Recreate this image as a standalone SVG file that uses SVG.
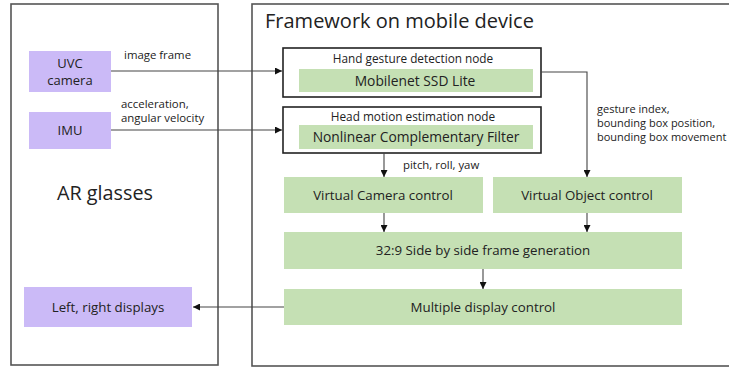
<svg xmlns="http://www.w3.org/2000/svg" width="729" height="367" viewBox="0 0 729 367">
<style>
text{font-family:"Open Sans","Noto Sans","DejaVu Sans",sans-serif;fill:#222}
.outer{fill:#fff;stroke:#555;stroke-width:1.6}
.node{fill:#fff;stroke:#222;stroke-width:1.6}
.g{fill:#c5e0b4}
.p{fill:#cbbaf7}
.c{fill:none;stroke:#444;stroke-width:1.1}
.m{text-anchor:middle}
.l{font-size:11.4px}
.s{font-size:11px}
.b{font-size:13.3px}
</style>
<defs>
<marker id="ah" viewBox="0 0 10 10" refX="10" refY="5" markerWidth="7" markerHeight="7" markerUnits="userSpaceOnUse" orient="auto">
<path d="M0,0 L10,5 L0,10 z" fill="#111"/>
</marker>
</defs>
<rect width="729" height="367" fill="#fff"/>
<g id="ar-glasses">
<rect class="outer" x="11" y="4" width="207" height="361"/>
<text x="105" y="200" font-size="19.8" class="m">AR glasses</text>
</g>
<g id="framework">
<rect class="outer" x="252" y="4" width="480" height="362"/>
<text x="265" y="28" font-size="20">Framework on mobile device</text>
</g>
<g id="uvc-camera">
<rect class="p" x="29" y="51" width="82" height="41"/>
<text x="70" y="68" font-size="13" class="m">UVC</text>
<text x="70" y="85" font-size="13" class="m">camera</text>
</g>
<g id="imu">
<rect class="p" x="29" y="112" width="82" height="37"/>
<text x="70" y="135" font-size="13" class="m">IMU</text>
</g>
<g id="left-right-displays">
<rect class="p" x="24" y="287" width="168" height="40"/>
<text x="108" y="312" class="m b">Left, right displays</text>
</g>
<g id="hand-gesture-node">
<rect class="node" x="283" y="48" width="258" height="49"/>
<text x="413" y="63" font-size="11.8" class="m">Hand gesture detection node</text>
<rect class="g" x="299" y="69" width="234" height="23"/>
<text x="415" y="86" font-size="13.8" class="m">Mobilenet SSD Lite</text>
</g>
<g id="head-motion-node">
<rect class="node" x="283" y="107" width="258" height="46"/>
<text x="413" y="121" font-size="11.8" class="m">Head motion estimation node</text>
<rect class="g" x="299" y="125" width="234" height="24"/>
<text x="416" y="142" font-size="13.8" class="m">Nonlinear Complementary Filter</text>
</g>
<g id="virtual-camera-control">
<rect class="g" x="284" y="177" width="199" height="36"/>
<text x="383" y="200" class="m b">Virtual Camera control</text>
</g>
<g id="virtual-object-control">
<rect class="g" x="493" y="177" width="189" height="36"/>
<text x="587" y="200" class="m b">Virtual Object control</text>
</g>
<g id="side-by-side">
<rect class="g" x="284" y="232" width="398" height="37"/>
<text x="483" y="255" class="m b">32:9 Side by side frame generation</text>
</g>
<g id="multiple-display-control">
<rect class="g" x="284" y="289" width="398" height="36"/>
<text x="483" y="312" class="m b">Multiple display control</text>
</g>
<g id="connectors">
<path class="c" d="M111,71 H282" marker-end="url(#ah)"/>
<path class="c" d="M111,130 H282" marker-end="url(#ah)"/>
<path class="c" d="M541,72 H587 V177" marker-end="url(#ah)"/>
<path class="c" d="M384,153 V177" marker-end="url(#ah)"/>
<path class="c" d="M384,213 V232" marker-end="url(#ah)"/>
<path class="c" d="M587,213 V232" marker-end="url(#ah)"/>
<path class="c" d="M483,269 V289" marker-end="url(#ah)"/>
<path class="c" d="M284,307 H193" marker-end="url(#ah)"/>
<text x="124" y="59" class="l">image frame</text>
<text x="121" y="108" class="l">acceleration,</text>
<text x="121" y="122" class="l">angular velocity</text>
<text x="403" y="169" class="l">pitch, roll, yaw</text>
<text x="597" y="113" class="s">gesture index,</text>
<text x="597" y="127" class="s">bounding box position,</text>
<text x="597" y="141" class="s">bounding box movement</text>
</g>
</svg>
